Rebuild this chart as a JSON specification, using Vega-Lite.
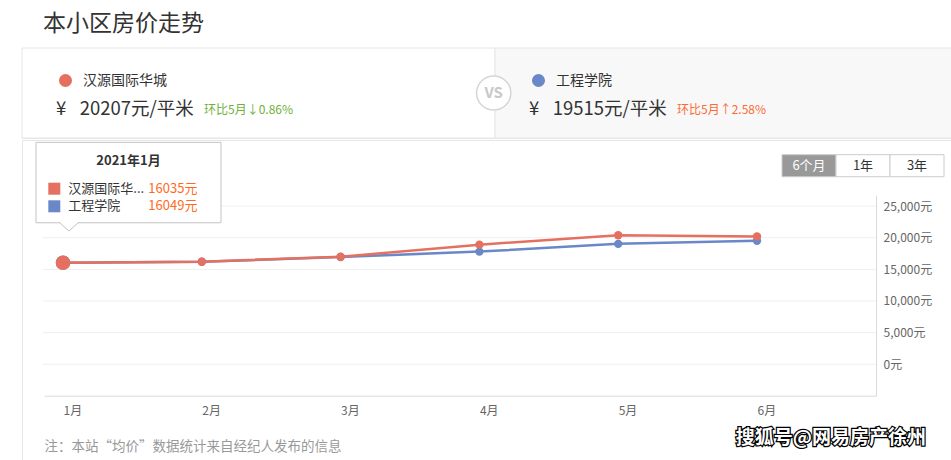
{
  "$schema": "https://vega.github.io/schema/vega-lite/v6.json",
  "background": "white",
  "padding": {"left": 21, "top": 13, "right": 0, "bottom": 0},
  "title": {"text": "本小区房价走势", "anchor": "start", "dx": 22, "fontSize": 23, "fontWeight": "normal", "color": "#333333", "offset": 11},
  "config": {"font": "Noto Sans CJK SC", "view": {"stroke": "#e6e6e6"}},
  "datasets": {
    "prices": [
      {"month": 1, "series": "工程学院", "price": 16049},
      {"month": 2, "series": "工程学院", "price": 16200},
      {"month": 3, "series": "工程学院", "price": 16950},
      {"month": 4, "series": "工程学院", "price": 17800},
      {"month": 5, "series": "工程学院", "price": 19024},
      {"month": 6, "series": "工程学院", "price": 19515},
      {"month": 1, "series": "汉源国际华城", "price": 16035},
      {"month": 2, "series": "汉源国际华城", "price": 16200},
      {"month": 3, "series": "汉源国际华城", "price": 17000},
      {"month": 4, "series": "汉源国际华城", "price": 18900},
      {"month": 5, "series": "汉源国际华城", "price": 20382},
      {"month": 6, "series": "汉源国际华城", "price": 20207}
    ],
    "ticks": [{"tick": 0}, {"tick": 5000}, {"tick": 10000}, {"tick": 15000}, {"tick": 20000}, {"tick": 25000}],
    "header": [
      {"name": "汉源国际华城", "price": "¥\u2002 20207元/平米", "chg": "环比5月↓0.86%", "dir": "down"},
      {"name": "工程学院", "price": "¥\u2002 19515元/平米", "chg": "环比5月↑2.58%", "dir": "up"}
    ],
    "tip": [
      {"series": "汉源国际华城", "label": "汉源国际华...", "val": "16035元"},
      {"series": "工程学院", "label": "工程学院", "val": "16049元"}
    ],
    "buttons": [{"b": "6个月"}, {"b": "1年"}, {"b": "3年"}]
  },
  "spacing": 0,
  "vconcat": [
    {
      "width": 933,
      "height": 90,
      "data": {"name": "header"},
      "layer": [
        {
          "mark": {"type": "rect", "stroke": "#e6e6e6", "strokeWidth": 1},
          "encoding": {
            "x": {"field": "name", "type": "nominal", "sort": null, "scale": {"type": "band", "domain": ["汉源国际华城", "工程学院"], "range": [0, 946], "paddingInner": 0, "paddingOuter": 0}, "axis": null},
            "fill": {"condition": {"test": "datum.name === '工程学院'", "value": "#f8f8f8"}, "value": "#ffffff"}
          }
        },
        {
          "mark": {"type": "point", "filled": true, "size": 170, "opacity": 1, "xOffset": 43.5, "yOffset": -12.5},
          "encoding": {
            "x": {"field": "name", "type": "nominal", "bandPosition": 0},
            "color": {"field": "name", "type": "nominal", "scale": {"domain": ["汉源国际华城", "工程学院"], "range": ["#e57060", "#6a88c8"]}, "legend": null}
          }
        },
        {
          "mark": {"type": "text", "align": "left", "baseline": "middle", "fontSize": 14, "color": "#333333", "xOffset": 61, "yOffset": -12},
          "encoding": {"x": {"field": "name", "type": "nominal", "bandPosition": 0}, "text": {"field": "name"}}
        },
        {
          "mark": {"type": "text", "align": "left", "baseline": "middle", "fontSize": 18.5, "color": "#333333", "xOffset": 34, "yOffset": 16},
          "encoding": {"x": {"field": "name", "type": "nominal", "bandPosition": 0}, "text": {"field": "price"}}
        },
        {
          "mark": {"type": "text", "align": "left", "baseline": "middle", "fontSize": 12, "xOffset": 182, "yOffset": 16.5},
          "encoding": {
            "x": {"field": "name", "type": "nominal", "bandPosition": 0},
            "text": {"field": "chg"},
            "color": {"condition": {"test": "datum.dir === 'down'", "value": "#6fb23a"}, "value": "#fa6b35"}
          }
        },
        {
          "transform": [{"filter": "datum.name === '工程学院'"}],
          "mark": {"type": "point", "filled": true, "fill": "#ffffff", "stroke": "#d6d6d6", "strokeWidth": 1.5, "size": 1170, "opacity": 1, "xOffset": -1.3, "yOffset": 0},
          "encoding": {"x": {"field": "name", "type": "nominal", "bandPosition": 0}}
        },
        {
          "transform": [{"filter": "datum.name === '工程学院'"}],
          "mark": {"type": "text", "text": "VS", "fontSize": 15, "fontWeight": "bold", "color": "#c8c8c8", "align": "center", "baseline": "middle", "xOffset": -1.3, "yOffset": 0.2},
          "encoding": {"x": {"field": "name", "type": "nominal", "bandPosition": 0}}
        }
      ]
    },
    {
      "width": 933,
      "height": 325,
      "resolve": {"scale": {"x": "independent", "y": "independent"}},
      "layer": [
        {
          "layer": [
            {
              "data": {"name": "ticks"},
              "mark": {"type": "rule", "color": "#efefef", "strokeWidth": 1},
              "encoding": {
                "y": {"field": "tick", "type": "quantitative"},
                "x": {"datum": 0.8537, "type": "quantitative"},
                "x2": {"datum": 6.8573}
              }
            },
            {
              "data": {"name": "prices"},
              "mark": {"type": "line", "strokeWidth": 2.5},
              "encoding": {
                "x": {
                  "field": "month", "type": "quantitative",
                  "scale": {"domain": [0.8631, 6.8573], "range": [22, 854], "nice": false, "zero": false},
                  "axis": {
                    "orient": "bottom", "offset": -69.3, "values": [1, 2, 3, 4, 5, 6],
                    "labelExpr": "datum.value + '月'", "labelAlign": "left", "labelFontSize": 12, "labelColor": "#666666",
                    "labelPadding": 10, "labelFlush": false, "labelOverlap": false, "ticks": false, "grid": false, "domainColor": "#d9d9d9",
                    "title": "注：本站“均价”数据统计来自经纪人发布的信息", "titleAnchor": "start", "titleAlign": "left",
                    "titleFontSize": 13.5, "titleFontWeight": "normal", "titleColor": "#999999", "titlePadding": 23
                  }
                },
                "y": {
                  "field": "price", "type": "quantitative",
                  "scale": {"domain": [-5000, 26700], "range": [255.9, 55.3], "nice": false, "zero": false},
                  "axis": {
                    "orient": "right", "offset": -79, "values": [0, 5000, 10000, 15000, 20000, 25000],
                    "labelExpr": "format(datum.value, ',') + '元'", "labelAlign": "left", "labelBaseline": "middle",
                    "labelPadding": 7, "labelFontSize": 12, "labelColor": "#666666", "ticks": false, "grid": false,
                    "domainColor": "#d9d9d9", "title": null
                  }
                },
                "color": {"field": "series", "type": "nominal", "scale": {"domain": ["汉源国际华城", "工程学院"], "range": ["#e57060", "#6a88c8"]}, "legend": null}
              }
            },
            {
              "data": {"name": "prices"},
              "mark": {"type": "point", "filled": true, "opacity": 1},
              "encoding": {
                "x": {"field": "month", "type": "quantitative"},
                "y": {"field": "price", "type": "quantitative"},
                "color": {"field": "series", "type": "nominal", "legend": null},
                "size": {"condition": {"test": "datum.month === 1", "value": 210}, "value": 70}
              }
            },
            {
              "data": {"values": [{"t": "2021年1月"}]},
              "mark": {"type": "rect", "fill": "#ffffff", "stroke": "#c4c4c4", "strokeWidth": 1},
              "encoding": {
                "x": {"datum": 0.8055}, "x2": {"datum": 2.1383},
                "y": {"datum": 35063}, "y2": {"datum": 22358}
              }
            },
            {
              "data": {"values": [{"t": "2021年1月"}]},
              "mark": {"type": "point", "shape": "M-1,0L0,0.9L1,0", "size": 400, "filled": true, "fill": "#ffffff", "stroke": "#c4c4c4", "strokeWidth": 1, "opacity": 1},
              "encoding": {"x": {"datum": 1.0432}, "y": {"datum": 22470}}
            },
            {
              "data": {"values": [{"t": "2021年1月"}]},
              "mark": {"type": "text", "fontSize": 13, "fontWeight": "bold", "color": "#333333", "align": "center", "baseline": "middle"},
              "encoding": {"x": {"datum": 1.4719}, "y": {"datum": 32168}, "text": {"field": "t"}}
            },
            {
              "data": {"values": [{"w": "搜狐号@网易房产徐州"}]},
              "mark": {"type": "text", "fontSize": 19, "fontWeight": "bold", "fill": "#000000", "stroke": "#000000", "strokeWidth": 2.5, "align": "center", "baseline": "middle"},
              "encoding": {"x": {"datum": 6.5324}, "y": {"datum": -11614}, "text": {"field": "w"}}
            },
            {
              "data": {"values": [{"w": "搜狐号@网易房产徐州"}]},
              "mark": {"type": "text", "fontSize": 19, "fontWeight": "bold", "fill": "#ffffff", "align": "center", "baseline": "middle"},
              "encoding": {"x": {"datum": 6.5324}, "y": {"datum": -11614}, "text": {"field": "w"}}
            }
          ]
        },
        {
          "data": {"name": "tip"},
          "layer": [
            {
              "mark": {"type": "point", "shape": "square", "filled": true, "size": 144, "opacity": 1},
              "encoding": {
                "x": {"datum": 0.9373, "type": "quantitative", "scale": {"domain": [0.8631, 6.8573], "range": [22, 854], "nice": false, "zero": false}, "axis": null},
                "y": {"field": "series", "type": "nominal", "scale": {"type": "point", "domain": ["汉源国际华城", "工程学院"], "range": [48.7, 66.3], "padding": 0}, "axis": null},
                "color": {"field": "series", "type": "nominal", "legend": null}
              }
            },
            {
              "mark": {"type": "text", "align": "left", "baseline": "middle", "fontSize": 13, "color": "#333333"},
              "encoding": {"x": {"datum": 1.0382}, "y": {"field": "series", "type": "nominal"}, "text": {"field": "label"}}
            },
            {
              "mark": {"type": "text", "align": "left", "baseline": "middle", "fontSize": 13, "color": "#ff6b1d"},
              "encoding": {"x": {"datum": 1.6146}, "y": {"field": "series", "type": "nominal"}, "text": {"field": "val"}}
            }
          ]
        },
        {
          "data": {"name": "buttons"},
          "layer": [
            {
              "mark": {"type": "rect", "stroke": "#cccccc", "strokeWidth": 1},
              "encoding": {
                "x": {"field": "b", "type": "nominal", "sort": null, "scale": {"type": "band", "domain": ["6个月", "1年", "3年"], "range": [760, 922], "paddingInner": 0, "paddingOuter": 0}, "axis": null},
                "y": {"datum": 33117, "type": "quantitative", "scale": {"domain": [-5000, 26700], "range": [255.9, 55.3], "nice": false, "zero": false}, "axis": null},
                "y2": {"datum": 29636},
                "fill": {"condition": {"test": "datum.b === '6个月'", "value": "#999999"}, "value": "#ffffff"}
              }
            },
            {
              "mark": {"type": "text", "fontSize": 13, "align": "center", "baseline": "middle"},
              "encoding": {
                "x": {"field": "b", "type": "nominal"},
                "y": {"datum": 31377},
                "text": {"field": "b"},
                "color": {"condition": {"test": "datum.b === '6个月'", "value": "#ffffff"}, "value": "#333333"}
              }
            }
          ]
        }
      ]
    }
  ]
}
